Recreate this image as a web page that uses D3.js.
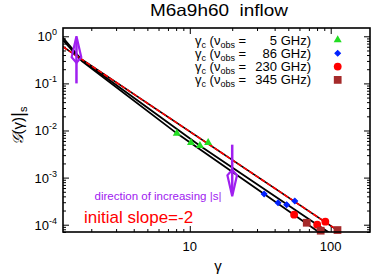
<!DOCTYPE html>
<html>
<head>
<meta charset="utf-8">
<script src="https://cdn.jsdelivr.net/npm/d3@7/dist/d3.min.js"></script>
<style>
  body { margin: 0; background: #fff; }
  text { font-family: "Liberation Sans", Arial, sans-serif; }
</style>
</head>
<body>
<div id="chart"></div>
<script>
// curves (gamma, G)
var gammaLow = [1.257, 1.714, 8.09, 33.7, 98.4];
var gLow = [0.834, 0.299, 8.7e-3, 4.5e-4, 4.8e-5];
var gammaUp = [1.257, 1.714, 11.8, 80.2, 106.7];
var gUp = [0.934, 0.314, 4.75e-3, 1.0e-4, 5.7e-5];
var gammaSlope = [1.257, 120];
var gSlope = [0.60, 6.6e-5];

// gamma_c points for each observing frequency
var gam5 = [8.09, 10.2, 11.8, 13.5];
var val5 = [8.7e-3, 5.5e-3, 4.75e-3, 5.5e-3];
var gam86 = [33.7, 42.3, 48.7, 55.6];
var val86 = [4.5e-4, 2.93e-4, 2.66e-4, 3.19e-4];
var gam230 = [55.0, 80.2, 91.6];
var val230 = [1.63e-4, 1.0e-4, 1.16e-4];
var gam345 = [67.6, 84.9, 111.7];
var val345 = [1.1e-4, 7.46e-5, 7.7e-5];

var seriesNames = ["5", "86", "230", "345"];

var xTickVals = [10, 100];
var yTickVals = [1, 0.1, 0.01, 0.001, 0.0001];
var yTickExp = ["0", "-1", "-2", "-3", "-4"];

// arrows: [gamma, from G, to G]
var arrowUp = [1.57, 0.1, 1.0];
var arrowDown = [20, 5e-3, 4e-4];

var width = 374;
var height = 277;
var mLeft = 63, mRight = 370, mTop = 28, mBottom = 232;

var x = d3.scaleLog().domain([1.26, 190]).range([mLeft, mRight]);
var y = d3.scaleLog().domain([7e-5, 1.5]).range([mBottom, mTop]);

var svg = d3.select("#chart").append("svg")
    .attr("width", width)
    .attr("height", height);

svg.append("rect").attr("width", width).attr("height", height).attr("fill", "#fff");

svg.append("clipPath").attr("id", "plotclip")
    .append("rect")
    .attr("x", mLeft).attr("y", mTop)
    .attr("width", mRight - mLeft).attr("height", mBottom - mTop);

// minor / major ticks on all four sides
var xMinor = x.ticks().filter(function (v) { return xTickVals.indexOf(v) < 0; });
var yMinor = y.ticks().filter(function (v) { return yTickVals.every(function (t) { return Math.abs(t - v) / t > 1e-6; }); });

function tickAxis(axis, vals, size, tx, ty) {
    var g = svg.append("g")
        .attr("transform", "translate(" + tx + "," + ty + ")")
        .call(axis.tickValues(vals).tickSize(size).tickFormat(""));
    g.select(".domain").remove();
    g.selectAll("line").attr("stroke", "#000").attr("stroke-width", 1);
}
tickAxis(d3.axisBottom(x), xMinor, -3, 0, mBottom);
tickAxis(d3.axisBottom(x), xTickVals, -6, 0, mBottom);
tickAxis(d3.axisTop(x), xMinor, -3, 0, mTop);
tickAxis(d3.axisTop(x), xTickVals, -6, 0, mTop);
tickAxis(d3.axisLeft(y), yMinor, -3, mLeft, 0);
tickAxis(d3.axisLeft(y), yTickVals, -6, mLeft, 0);
tickAxis(d3.axisRight(y), yMinor, -3, mRight, 0);
tickAxis(d3.axisRight(y), yTickVals, -6, mRight, 0);

// tick labels
svg.selectAll(".xlab").data(xTickVals).enter().append("text")
    .attr("x", function (d) { return x(d); })
    .attr("y", 251)
    .attr("text-anchor", "middle")
    .attr("font-size", 13)
    .text(function (d) { return d; });

var ylab = svg.selectAll(".ylab").data(yTickVals).enter().append("text")
    .attr("x", 57)
    .attr("y", function (d) { return y(d) + 5; })
    .attr("text-anchor", "end")
    .attr("font-size", 13);
ylab.append("tspan").text("10");
ylab.append("tspan").attr("font-size", 9).attr("dy", -6).text(function (d, i) { return yTickExp[i]; });

// curves
var line = d3.line()
    .x(function (d) { return x(d[0]); })
    .y(function (d) { return y(d[1]); });

var plot = svg.append("g").attr("clip-path", "url(#plotclip)");

function pairs(a, b) { return a.map(function (v, i) { return [v, b[i]]; }); }

plot.append("path").datum(pairs(gammaLow, gLow))
    .attr("d", line).attr("fill", "none").attr("stroke", "#000").attr("stroke-width", 1.8);
plot.append("path").datum(pairs(gammaUp, gUp))
    .attr("d", line).attr("fill", "none").attr("stroke", "#000").attr("stroke-width", 1.8);
plot.append("path").datum(pairs(gammaSlope, gSlope))
    .attr("d", line).attr("fill", "none").attr("stroke", "#000").attr("stroke-width", 1.6);
plot.append("path").datum(pairs(gammaSlope, gSlope))
    .attr("d", line).attr("fill", "none").attr("stroke", "#f00").attr("stroke-width", 1.6)
    .attr("stroke-dasharray", "5,2");

// markers
var symGreen = d3.symbol().type(d3.symbolTriangle).size(28);
var symBlue = d3.symbol().type(d3.symbolSquare).size(16);
var symRed = d3.symbol().type(d3.symbolCircle).size(48);
var symBrown = d3.symbol().type(d3.symbolSquare).size(60);

var markerSets = [
    { g: gam5, v: val5, sym: symGreen, color: "#22dd22", rot: 0 },
    { g: gam86, v: val86, sym: symBlue, color: "#0022ff", rot: 45 },
    { g: gam230, v: val230, sym: symRed, color: "#ff0000", rot: 0 },
    { g: gam345, v: val345, sym: symBrown, color: "#a52a2a", rot: 0 }
];

markerSets.forEach(function (s) {
    svg.selectAll(null).data(pairs(s.g, s.v)).enter().append("path")
        .attr("d", s.sym)
        .attr("transform", function (d) { return "translate(" + x(d[0]) + "," + y(d[1]) + ") rotate(" + s.rot + ")"; })
        .attr("fill", s.color)
        .attr("stroke", s.rot ? s.color : "none")
        .attr("stroke-width", 1);
});

// border
svg.append("rect")
    .attr("x", mLeft).attr("y", mTop)
    .attr("width", mRight - mLeft).attr("height", mBottom - mTop)
    .attr("fill", "none").attr("stroke", "#000").attr("stroke-width", 1.6);

// legend
var legendRows = svg.selectAll(".key").data(seriesNames).enter().append("g")
    .attr("transform", function (d, i) { return "translate(0," + (40 + i * 13.3) + ")"; });

var leftPart = legendRows.append("text")
    .attr("x", 195).attr("y", 4.5)
    .attr("font-size", 13);
leftPart.append("tspan").text("\u03b3");
leftPart.append("tspan").attr("font-size", 9).attr("dy", 3).text("c");
leftPart.append("tspan").attr("dy", -3).text(" (\u03bd");
leftPart.append("tspan").attr("font-size", 9).attr("dy", 3).text("obs");
leftPart.append("tspan").attr("dy", -3).text(" =");

legendRows.append("text")
    .attr("x", 311).attr("y", 4.5)
    .attr("text-anchor", "end")
    .attr("font-size", 13)
    .text(function (d) { return d + " GHz)"; });

legendRows.append("path")
    .attr("d", function (d, i) { return markerSets[i].sym(); })
    .attr("transform", function (d, i) { return "translate(337.7,0) rotate(" + markerSets[i].rot + ")"; })
    .attr("fill", function (d, i) { return markerSets[i].color; })
    .attr("stroke", function (d, i) { return markerSets[i].rot ? markerSets[i].color : "none"; })
    .attr("stroke-width", 1);

// arrows
var purple = "#a020f0";
function drawArrow(a) {
    var xp = x(a[0]), y0 = y(a[1]), y1 = y(a[2]);
    var dir = y1 < y0 ? 1 : -1;
    svg.append("line")
        .attr("x1", xp).attr("x2", xp).attr("y1", y0).attr("y2", y1 + dir * 3)
        .attr("stroke", purple).attr("stroke-width", 2.5);
    var pts = [[xp, y1], [xp - 4.8, y1 + dir * 21], [xp, y1 + dir * 26.5], [xp + 4.8, y1 + dir * 21]];
    svg.append("path")
        .attr("d", "M" + pts.join("L") + "Z")
        .attr("fill", "none").attr("stroke", purple).attr("stroke-width", 2.2)
        .attr("stroke-linejoin", "miter");
}
drawArrow(arrowUp);
drawArrow(arrowDown);

// annotations
svg.append("text")
    .attr("x", 158).attr("y", 199.5)
    .attr("text-anchor", "middle")
    .attr("font-size", 11.5)
    .attr("fill", purple)
    .text("direction of increasing |s|");

svg.append("text")
    .attr("x", 84).attr("y", 222.5)
    .attr("font-size", 17)
    .attr("fill", "#f00")
    .text("initial slope=-2");

// title and axis labels
svg.append("text")
    .attr("x", 150).attr("y", 16)
    .attr("font-size", 16.5)
    .attr("textLength", 138)
    .attr("lengthAdjust", "spacingAndGlyphs")
    .style("white-space", "pre")
    .text("M6a9h60  inflow");

svg.append("text")
    .attr("x", 218).attr("y", 271)
    .attr("text-anchor", "middle")
    .attr("font-size", 15)
    .text("\u03b3");

var yl = svg.append("text")
    .attr("transform", "translate(23,126) rotate(-90)")
    .attr("text-anchor", "middle")
    .attr("font-size", 15);
yl.append("tspan").style("font-family", "'DejaVu Serif', serif").attr("font-style", "italic").text("\ud835\udca2");
yl.append("tspan").text("(\u03b3)");
yl.append("tspan").attr("font-size", 19).attr("dy", 1).text("|");
yl.append("tspan").attr("font-size", 11).attr("dy", 3).text("s");
</script>
</body>
</html>
